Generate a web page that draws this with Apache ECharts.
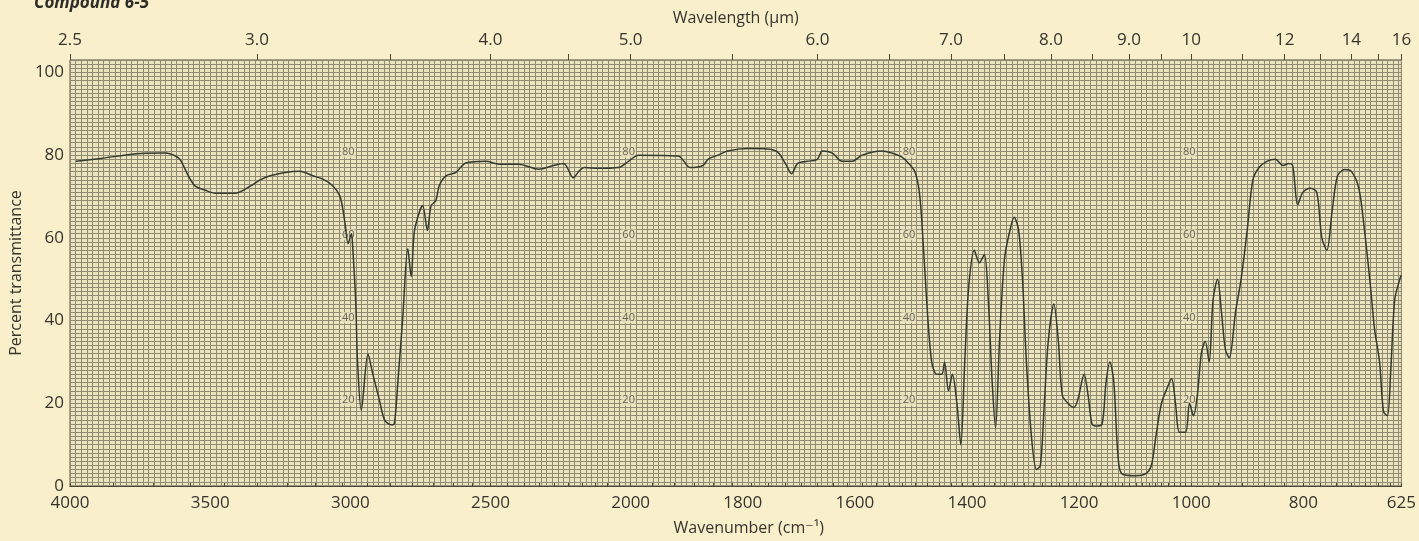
<!DOCTYPE html>
<html>
<head>
<meta charset="utf-8">
<script src="https://cdn.jsdelivr.net/npm/echarts@6/dist/echarts.min.js"></script>
<style>
  html, body { margin: 0; padding: 0; background: #f9efca; }
  #chart { width: 1419px; height: 541px; }
</style>
</head>
<body>
<div id="chart"></div>
<script>
// ---- data ----
const wavenumbers = [
  3979, 3890, 3748, 3659, 3624, 3606, 3578, 3553, 3517, 3482, 3411, 3357, 3322, 3286, 3233, 3180,
  3134, 3098, 3063, 3038, 3027, 3018, 3008, 2996, 2992, 2981, 2974, 2961, 2937, 2920, 2896, 2878,
  2854, 2843, 2831, 2813, 2795, 2783, 2772, 2754, 2742, 2725, 2712, 2695, 2683, 2659, 2624, 2588,
  2517, 2470, 2399, 2328, 2275, 2239, 2204, 2186, 2165, 2115, 2044, 2008,
  1986, 1915, 1894, 1871, 1862, 1844, 1827, 1791, 1756, 1738, 1724, 1713, 1702, 1685, 1667, 1658,
  1640, 1623, 1605, 1587, 1552, 1534, 1516, 1504, 1493, 1486, 1481, 1472, 1463, 1454, 1445, 1440,
  1433, 1426, 1418, 1411, 1404, 1397, 1387, 1378, 1369, 1362, 1355, 1349, 1342, 1333, 1323, 1316,
  1308, 1301, 1294, 1285, 1276, 1269, 1262, 1255, 1245, 1237, 1230, 1220, 1209, 1202, 1191, 1184,
  1177, 1170, 1159, 1152, 1145, 1138, 1131, 1124, 1099, 1081, 1071, 1063, 1053, 1042, 1035, 1028,
  1021, 1010, 1003, 996, 989, 982, 975, 968, 961, 953, 946, 939, 932, 921, 911, 900,
  890, 879, 865, 850, 836, 826, 819, 810, 801, 788, 776, 767, 758, 749, 739, 726,
  714, 701, 691, 680, 673, 664, 657, 650, 644, 637, 628, 625
];
const transmittance = [
  78.5, 79.2, 80.4, 80.5, 79.8, 78.8, 75, 72.5, 71.5, 70.8, 70.8, 72.5, 74, 75, 75.8, 76.1,
  75, 74.2, 72.6, 70.2, 67, 63, 58.6, 61, 58.2, 44.7, 29.5, 18.3, 31.9, 27.1, 20.7, 16,
  14.8, 15.1, 24.7, 40.7, 57.4, 50.6, 61.4, 66.2, 67.8, 61.8, 67.8, 69, 72.6, 75, 75.8, 78.1,
  78.5, 77.8, 77.8, 76.6, 77.5, 78, 74.5, 76, 77, 76.8, 77, 78.5,
  80, 79.8, 77, 77.5, 79, 80, 81, 81.6, 81.5, 80.8, 78, 75.5, 78, 78.5, 79, 81,
  80.5, 78.5, 78.5, 80, 81, 80.5, 79.5, 78, 76, 72, 65, 45, 30, 27, 27, 30,
  23, 27, 20, 10, 30, 48, 57, 54, 56, 45, 25, 14, 35, 55, 62, 65,
  62, 50, 30, 12, 4, 5, 20, 35, 44, 35, 22, 20, 19, 21, 27, 22,
  15, 14.5, 15, 25, 30, 25, 8, 3, 2.5, 3, 5, 12, 20, 24, 26, 20,
  13, 13, 20, 17, 22, 32, 35, 30, 45, 50, 42, 33, 31, 42, 50, 62,
  74, 77, 78.5, 79, 77.5, 78, 77.5, 68, 71, 72, 71, 60, 57, 66, 75, 76.5,
  76, 72, 62, 48, 38, 30, 18, 17, 28, 45, 50, 51
];
const wavenumberTicks = [4000, 3500, 3000, 2500, 2000, 1800, 1600, 1400, 1200, 1000, 800, 625];
const wavelengthTicks = [2.5, 3.0, 4.0, 5.0, 6.0, 7.0, 8.0, 9.0, 10, 12, 14, 16];
const wavelengthMajorMarks = [2.5, 3.0, 3.5, 4.0, 4.5, 5.0, 5.5, 6.0, 6.5, 7.0, 7.5, 8.0, 8.5, 9.0, 9.5, 10, 11, 12, 13, 14, 15, 16];
const yTickLabels = [0, 20, 40, 60, 80, 100];
const paperLabelWavenumbers = [3000, 2000, 1500, 1000];
const paperLabelValues = [80, 60, 40, 20];

// ---- scale: grating change at 2000 cm-1, right part expanded twice ----
function toU(w) { return w >= 2000 ? 4000 - w : 2000 + (2000 - w) * 2; }
function fromU(u) { return u <= 2000 ? 4000 - u : 2000 - (u - 2000) / 2; }
const U_MAX = toU(625);

const wavelengthMinor = [];
for (let l = 25; l <= 100; l++) wavelengthMinor.push(l / 10);
for (let l = 105; l <= 160; l += 5) wavelengthMinor.push(l / 10);

const lineData = wavenumbers.map((w, i) => [toU(w), transmittance[i]]);
const paperLabels = [];
paperLabelWavenumbers.forEach(w => paperLabelValues.forEach(v => paperLabels.push([toU(w), v, v])));

const FONT = '"Open Sans", "DejaVu Sans", sans-serif';
const TXT = '#35342e';
const MAJOR = '#5f5d4a';
const MINOR = '#8f8c72';

const chart = echarts.init(document.getElementById('chart'), null, { renderer: 'canvas' });
chart.setOption({
  backgroundColor: '#f9efca',
  animation: false,
  title: {
    text: 'Compound 6-5', left: 29, top: -10,
    textStyle: { fontFamily: FONT, fontSize: 17, fontStyle: 'italic', fontWeight: 'bold', color: '#2e2d28' }
  },
  grid: {
    left: 69, right: 12, top: 60, bottom: 52,
    show: true, backgroundColor: '#ece3bf', borderColor: '#4a483a', borderWidth: 1
  },
  xAxis: [
    { // bottom wavenumber axis
      type: 'value', position: 'bottom', min: 0, max: U_MAX,
      name: 'Wavenumber (cm⁻¹)', nameLocation: 'middle', nameGap: 34,
      nameTextStyle: { fontFamily: FONT, fontSize: 16, color: TXT, padding: [0, 0, 0, 26] },
      axisLine: { show: true, lineStyle: { color: '#4a483a' } },
      axisTick: { show: false },
      axisLabel: {
        customValues: wavenumberTicks.map(toU), margin: 9,
        fontFamily: FONT, fontSize: 17, color: TXT,
        formatter: v => String(Math.round(fromU(v)))
      },
      splitLine: { show: false }
    },
    { // top wavelength axis with labels and minor marks
      type: 'value', position: 'top', min: 0, max: U_MAX,
      name: 'Wavelength (µm)', nameLocation: 'middle', nameGap: 34,
      nameTextStyle: { fontFamily: FONT, fontSize: 16, color: TXT },
      axisLine: { show: true, lineStyle: { color: '#4a483a' } },
      axisTick: { show: true, customValues: wavelengthMinor.map(l => toU(10000 / l)), length: 3, lineStyle: { color: '#4a483a' } },
      axisLabel: {
        customValues: wavelengthTicks.map(l => toU(10000 / l)), margin: 11,
        fontFamily: FONT, fontSize: 17, color: TXT,
        formatter: v => { const l = 10000 / fromU(v); return l < 9.95 ? l.toFixed(1) : l.toFixed(0); }
      },
      splitLine: { show: false }
    },
    { // top major marks
      type: 'value', position: 'top', min: 0, max: U_MAX,
      axisLine: { show: false },
      axisTick: { show: true, customValues: wavelengthMajorMarks.map(l => toU(10000 / l)), length: 6, lineStyle: { color: '#4a483a' } },
      axisLabel: { show: false },
      splitLine: { show: false }
    },
    { // chart-paper major verticals
      type: 'value', min: 0, max: U_MAX, interval: 100,
      axisLine: { show: false }, axisTick: { show: false }, axisLabel: { show: false },
      splitLine: { show: true, lineStyle: { color: MAJOR, width: 1 } }
    },
    { // chart-paper minor verticals
      type: 'value', min: 0, max: U_MAX, interval: 20,
      axisLine: { show: false }, axisTick: { show: false }, axisLabel: { show: false },
      splitLine: { show: true, lineStyle: { color: MINOR, width: 1 } }
    }
  ],
  yAxis: [
    {
      type: 'value', min: 0, max: 103, interval: 10,
      name: 'Percent transmittance', nameLocation: 'middle', nameGap: 42, nameRotate: 90,
      nameTextStyle: { fontFamily: FONT, fontSize: 16, color: TXT },
      axisLine: { show: false }, axisTick: { show: false },
      axisLabel: {
        margin: 6, fontFamily: FONT, fontSize: 17, color: TXT,
        formatter: v => (yTickLabels.indexOf(v) >= 0 ? String(v) : '')
      },
      splitLine: { show: true, lineStyle: { color: MAJOR, width: 1 } }
    },
    {
      type: 'value', min: 0, max: 103, interval: 1,
      axisLine: { show: false }, axisTick: { show: false }, axisLabel: { show: false },
      splitLine: { show: true, lineStyle: { color: MINOR, width: 1 } }
    }
  ],
  series: [
    {
      type: 'scatter', xAxisIndex: 0, yAxisIndex: 0, data: paperLabels,
      symbolSize: 0, silent: true, z: 3,
      label: { show: true, position: 'inside', formatter: p => String(p.data[2]),
        fontFamily: FONT, fontSize: 11, color: '#45443a', offset: [-2, -3],
        backgroundColor: '#ece3bf', padding: [0, 1] }
    },
    {
      type: 'line', xAxisIndex: 0, yAxisIndex: 0, data: lineData,
      showSymbol: false, smooth: 0.3, z: 5,
      lineStyle: { color: '#343b2e', width: 1.5 }
    }
  ]
});
</script>
</body>
</html>
